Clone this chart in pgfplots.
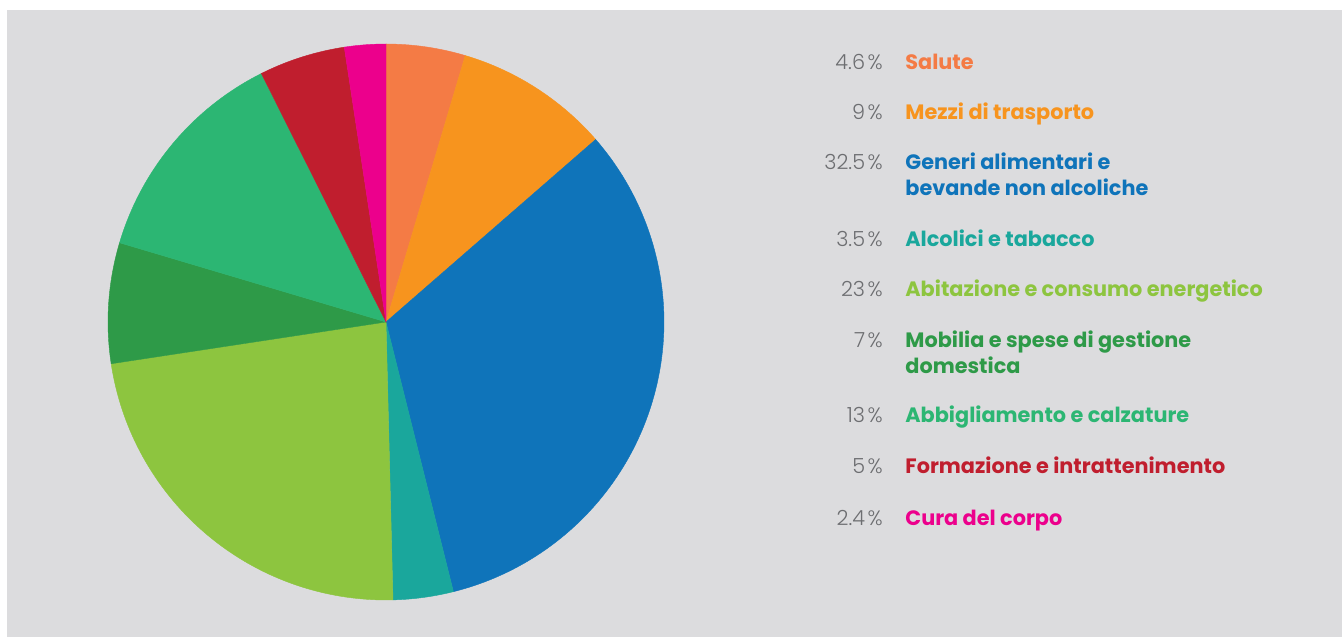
\documentclass[border=0pt]{standalone}
\usepackage{fontspec}
\setmainfont{Poppins}
\newfontfamily\numfont{Poppins Light}
\usepackage{pgfplots}
\pgfplotsset{compat=1.18}
\definecolor{bg}{HTML}{DCDCDE}
\definecolor{cSal}{HTML}{F47B45}
\definecolor{cMez}{HTML}{F7941E}
\definecolor{cGen}{HTML}{0F74BA}
\definecolor{cAlc}{HTML}{1AA79C}
\definecolor{cAbi}{HTML}{8DC53F}
\definecolor{cMob}{HTML}{2E9A48}
\definecolor{cAbb}{HTML}{2CB673}
\definecolor{cFor}{HTML}{C01E2E}
\definecolor{cCur}{HTML}{EC008C}
\definecolor{numgrey}{HTML}{6D6E71}
\newcommand{\pc}{\kern1.2pt\%}
\begin{document}
\begin{tikzpicture}[x=0.5pt,y=0.5pt]
\useasboundingbox (0,0) rectangle (1342,637);
\fill[white] (0,0) rectangle (1342,637);
\fill[bg] (7,0) rectangle (1342,627);
\begin{axis}[
  hide axis, scale only axis,
  width=278pt, height=278pt,
  xmin=-1, xmax=1, ymin=-1, ymax=1,
  at={(193pt,157.5pt)}, anchor=center,
  clip=false,
]
% cumulative shares (percent): 0, 4.6, 13.6, 46.1, 49.6, 72.6, 79.6, 92.6, 97.6, 100
\addplot[fill=cSal, draw=cSal, line width=0.2pt, domain=0:4.6, samples=20, variable=\t] ({sin(3.6*t)},{cos(3.6*t)}) -- (axis cs:0,0) -- cycle;
\addplot[fill=cMez, draw=cMez, line width=0.2pt, domain=4.6:13.6, samples=30, variable=\t] ({sin(3.6*t)},{cos(3.6*t)}) -- (axis cs:0,0) -- cycle;
\addplot[fill=cGen, draw=cGen, line width=0.2pt, domain=13.6:46.1, samples=90, variable=\t] ({sin(3.6*t)},{cos(3.6*t)}) -- (axis cs:0,0) -- cycle;
\addplot[fill=cAlc, draw=cAlc, line width=0.2pt, domain=46.1:49.6, samples=15, variable=\t] ({sin(3.6*t)},{cos(3.6*t)}) -- (axis cs:0,0) -- cycle;
\addplot[fill=cAbi, draw=cAbi, line width=0.2pt, domain=49.6:72.6, samples=70, variable=\t] ({sin(3.6*t)},{cos(3.6*t)}) -- (axis cs:0,0) -- cycle;
\addplot[fill=cMob, draw=cMob, line width=0.2pt, domain=72.6:79.6, samples=25, variable=\t] ({sin(3.6*t)},{cos(3.6*t)}) -- (axis cs:0,0) -- cycle;
\addplot[fill=cAbb, draw=cAbb, line width=0.2pt, domain=79.6:92.6, samples=40, variable=\t] ({sin(3.6*t)},{cos(3.6*t)}) -- (axis cs:0,0) -- cycle;
\addplot[fill=cFor, draw=cFor, line width=0.2pt, domain=92.6:97.6, samples=20, variable=\t] ({sin(3.6*t)},{cos(3.6*t)}) -- (axis cs:0,0) -- cycle;
\addplot[fill=cCur, draw=cCur, line width=0.2pt, domain=97.6:100, samples=12, variable=\t] ({sin(3.6*t)},{cos(3.6*t)}) -- (axis cs:0,0) -- cycle;
\end{axis}
\tikzset{num/.style={anchor=base east, inner sep=0pt, font=\numfont\fontsize{10.4pt}{12pt}\selectfont, text=numgrey},
         lab/.style={anchor=base west, inner sep=0pt, font=\bfseries\fontsize{10.4pt}{12pt}\selectfont}}
\node[num] at (883,{637-70}) {4.6\pc};
\node[lab,text=cSal] at (905,{637-70}) {Salute};
\node[num] at (883,{637-120}) {9\pc};
\node[lab,text=cMez] at (905,{637-120}) {Mezzi di trasporto};
\node[num] at (883,{637-170}) {32.5\pc};
\node[lab,text=cGen] at (905,{637-170}) {Generi alimentari e};
\node[lab,text=cGen] at (905,{637-196}) {bevande non alcoliche};
\node[num] at (883,{637-247}) {3.5\pc};
\node[lab,text=cAlc] at (905,{637-247}) {Alcolici e tabacco};
\node[num] at (883,{637-297}) {23\pc};
\node[lab,text=cAbi] at (905,{637-297}) {Abitazione e consumo energetico};
\node[num] at (883,{637-348}) {7\pc};
\node[lab,text=cMob] at (905,{637-348}) {Mobilia e spese di gestione};
\node[lab,text=cMob] at (905,{637-374}) {domestica};
\node[num] at (883,{637-423}) {13\pc};
\node[lab,text=cAbb] at (905,{637-423}) {Abbigliamento e calzature};
\node[num] at (883,{637-474}) {5\pc};
\node[lab,text=cFor] at (905,{637-474}) {Formazione e intrattenimento};
\node[num] at (883,{637-525}) {2.4\pc};
\node[lab,text=cCur] at (905,{637-525}) {Cura del corpo};
\end{tikzpicture}
\end{document}
